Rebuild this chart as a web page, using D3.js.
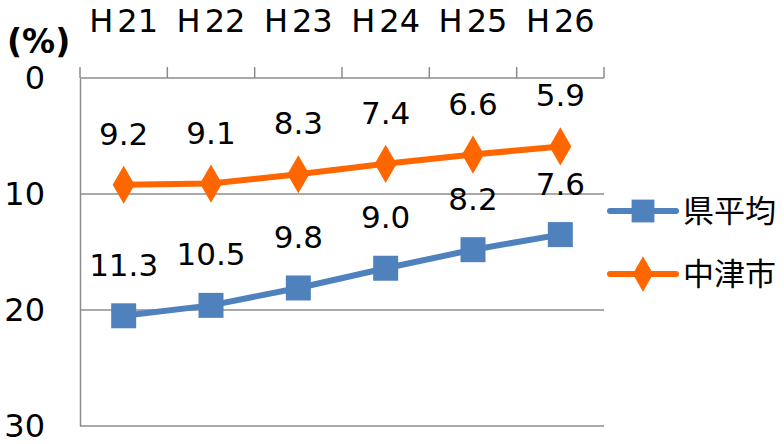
<!DOCTYPE html>
<html>
<head>
<meta charset="utf-8">
<script src="https://cdn.jsdelivr.net/npm/d3@7"></script>
<style>
  body { margin: 0; background: #fff; }
  svg { display: block; }
</style>
</head>
<body>
<div id="chart"></div>
<script>
const years = ['H21', 'H22', 'H23', 'H24', 'H25', 'H26'];
const nakatsu = [9.2, 9.1, 8.3, 7.4, 6.6, 5.9];       // 中津市
const prefAvg = [11.3, 10.5, 9.8, 9.0, 8.2, 7.6];     // 県平均 (stacked on 中津市)
const yTicks = [0, 10, 20, 30];

const W = 784, H = 444;
const margin = { top: 78, right: 180, bottom: 18, left: 80 };
const width = W - margin.left - margin.right;
const height = H - margin.top - margin.bottom;

const blue = '#4F81BD', orange = '#FF6600', grid = '#8C8C8C';
const numFont = '"DejaVu Sans", Verdana, sans-serif';
const jpFont = '"Noto Sans CJK JP", sans-serif';

const svg = d3.select('#chart').append('svg')
    .attr('width', W)
    .attr('height', H);

const g = svg.append('g').attr('transform', 'translate(' + margin.left + ',' + margin.top + ')');

const x = d3.scaleBand().domain(years).range([0, width]);
const y = d3.scaleLinear().domain([0, 30]).range([0, height]);

const rows = years.map((k, i) => ({ year: k, nakatsu: nakatsu[i], pref: prefAvg[i] }));
const stacked = d3.stack().keys(['nakatsu', 'pref'])(rows);

// gridlines
g.selectAll('.grid')
    .data(yTicks.slice(1))
    .enter().append('line')
    .attr('x1', 0).attr('x2', width)
    .attr('y1', d => y(d)).attr('y2', d => y(d))
    .attr('stroke', grid).attr('stroke-width', 1.5);

// top category axis
const xAxis = g.append('g')
    .call(d3.axisTop(x).tickSize(0).tickPadding(0).tickFormat(() => ''));
xAxis.select('.domain').attr('stroke', grid).attr('stroke-width', 1.5).attr('d', 'M0,0H' + width);
g.selectAll('.xtick')
    .data(d3.range(years.length + 1))
    .enter().append('line')
    .attr('x1', i => i * x.step()).attr('x2', i => i * x.step())
    .attr('y1', 0).attr('y2', -11)
    .attr('stroke', grid).attr('stroke-width', 1.5);
const xl = g.selectAll('.xlabel')
    .data(years)
    .enter().append('text')
    .attr('x', d => x(d) + x.bandwidth() / 2)
    .attr('y', -46)
    .attr('text-anchor', 'middle')
    .attr('font-family', numFont)
    .attr('font-size', 32);
xl.append('tspan').text(d => d.slice(0, 1));
xl.append('tspan').attr('dx', 4).text(d => d.slice(1));

// left value axis
const yAxis = g.append('g')
    .call(d3.axisLeft(y).tickValues(yTicks).tickSize(0).tickPadding(35));
yAxis.select('.domain').attr('stroke', grid).attr('stroke-width', 1.5);
yAxis.selectAll('text')
    .attr('font-family', numFont)
    .attr('font-size', 32)
    .attr('fill', '#000');

svg.append('text')
    .attr('x', 7).attr('y', 53)
    .attr('font-family', numFont)
    .attr('font-size', 33)
    .attr('font-weight', 'bold')
    .text('(%)');

const cx = d => x(d.data.year) + x.bandwidth() / 2;
const line = d3.line().x(cx).y(d => y(d[1]));

const series = [
    { layer: stacked[1], color: blue, shape: d3.symbolSquare, raw: prefAvg },
    { layer: stacked[0], color: orange, shape: d3.symbolDiamond, raw: nakatsu }
];

series.forEach(s => {
    g.append('path')
        .datum(s.layer)
        .attr('fill', 'none')
        .attr('stroke', s.color)
        .attr('stroke-width', 6)
        .attr('stroke-linejoin', 'round')
        .attr('d', line);

    const size = s.shape === d3.symbolSquare ? 625 : 420;
    g.selectAll(null)
        .data(s.layer)
        .enter().append('path')
        .attr('transform', d => 'translate(' + cx(d) + ',' + y(d[1]) + ')')
        .attr('d', d3.symbol().type(s.shape).size(size))
        .attr('fill', s.color);

    g.selectAll(null)
        .data(s.layer)
        .enter().append('text')
        .attr('x', cx)
        .attr('y', d => y(d[1]) - 40)
        .attr('text-anchor', 'middle')
        .attr('font-family', numFont)
        .attr('font-size', 31)
        .text((d, i) => s.raw[i].toFixed(1));
});

// legend
const legend = svg.append('g').attr('transform', 'translate(608,0)');
const legendItems = [
    { name: '県平均', color: blue, shape: d3.symbolSquare, size: 520, y: 211 },
    { name: '中津市', color: orange, shape: d3.symbolDiamond, size: 360, y: 274 }
];
legendItems.forEach(item => {
    legend.append('line')
        .attr('x1', 2).attr('x2', 68)
        .attr('y1', item.y).attr('y2', item.y)
        .attr('stroke', item.color)
        .attr('stroke-width', 6)
        .attr('stroke-linecap', 'round');
    legend.append('path')
        .attr('transform', 'translate(35,' + item.y + ')')
        .attr('d', d3.symbol().type(item.shape).size(item.size))
        .attr('fill', item.color);
    legend.append('text')
        .attr('x', 75)
        .attr('y', item.y + 11)
        .attr('font-family', jpFont)
        .attr('font-size', 31)
        .text(item.name);
});
</script>
</body>
</html>
